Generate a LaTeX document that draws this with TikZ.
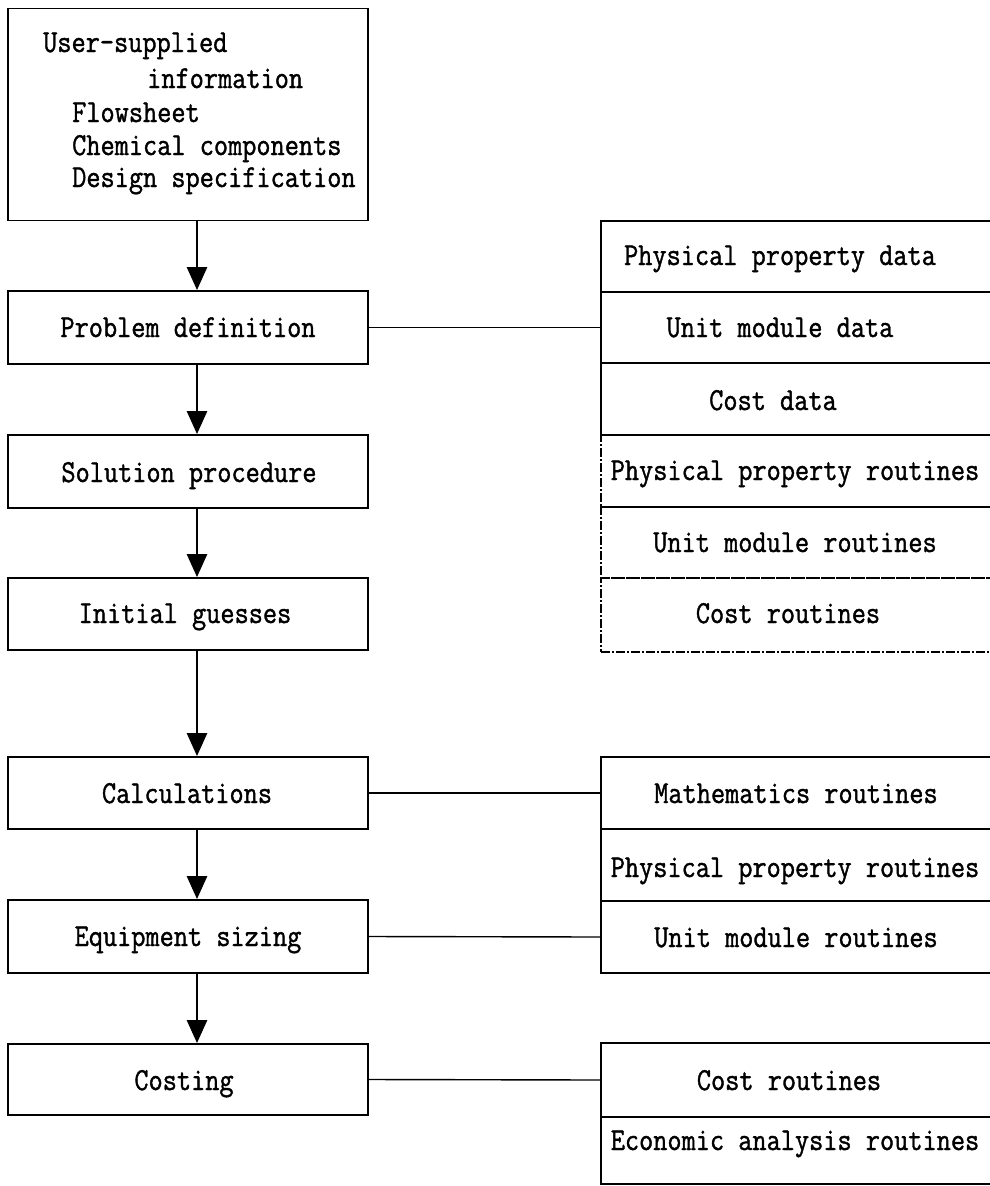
\documentclass[tikz,border=0pt]{standalone}
\usepackage{fontspec}
\setmonofont{Latin Modern Mono}[FakeStretch=0.86,FakeBold=1.2]
\usetikzlibrary{arrows.meta}
\begin{document}
\begin{tikzpicture}[x=1pt,y=-1pt,
  box/.style={draw, line width=1.8pt, rectangle, inner sep=0pt},
  leftbox/.style={box, minimum width=360pt, minimum height=#1},
  cell/.style={box, minimum width=400pt, minimum height=#1},
  dashcell/.style={cell=#1, line width=1.2pt, dash pattern=on 9pt off 2pt on 2pt off 2pt},
  txt/.style={font=\ttfamily\fontsize{32}{34}\selectfont, anchor=base, inner sep=0pt},
  txtw/.style={txt, anchor=base west},
  flow/.style={line width=2.6pt, -{Triangle[width=20pt,length=23pt]}},
  link/.style={line width=1.4pt}]
\useasboundingbox (0,0) rectangle (989,1186);

% main sequence of steps
\node[leftbox=212pt] (ui) at (188,114.5) {};
\node[leftbox=73pt] (pd) at (188,327.5) {};
\node[leftbox=73pt] (sp) at (188,471.5) {};
\node[leftbox=72pt] (ig) at (188,614) {};
\node[leftbox=72pt] (calc) at (188,793) {};
\node[leftbox=73pt] (es) at (188,936.5) {};
\node[leftbox=71pt] (cost) at (188,1079.5) {};

\node[txtw] (ui1) at (43,52) {User-supplied};
\node[txtw] (ui2) at (147,88) {information};
\node[txtw] (ui3) at (72,122) {Flowsheet};
\node[txtw] (ui4) at (72,155) {Chemical components};
\node[txtw] (ui5) at (72,187) {Design specification};
\node[txt] (pdt) at (188,337) {Problem definition};
\node[txt] (spt) at (189,482) {Solution procedure};
\node[txt] (igt) at (185,623) {Initial guesses};
\node[txt] (calct) at (187,803) {Calculations};
\node[txt] (est) at (188,946) {Equipment sizing};
\node[txt] (costt) at (184,1090) {Costing};

% data and routine libraries used in problem definition
\node[dashcell=72pt] (r4) at (801,471) {};
\node[dashcell=71pt] (r5) at (801,542.5) {};
\node[dashcell=74pt] (r6) at (801,615) {};
\node[cell=71pt] (r1) at (801,256.5) {};
\node[cell=71pt] (r2) at (801,327.5) {};
\node[cell=72pt] (r3) at (801,399) {};

\node[txt] (r1t) at (780,265) {Physical property data};
\node[txt] (r2t) at (780,337) {Unit module data};
\node[txt] (r3t) at (773,410) {Cost data};
\node[txt] (r4t) at (795,480) {Physical property routines};
\node[txt] (r5t) at (795,552) {Unit module routines};
\node[txt] (r6t) at (788,623) {Cost routines};

% routines used in calculations and sizing
\node[cell=72pt] (s2a) at (801,793) {};
\node[cell=72pt] (s2b) at (801,865) {};
\node[cell=72pt] (s2c) at (801,937) {};
\node[txt] (s2at) at (796,803) {Mathematics routines};
\node[txt] (s2bt) at (795,877) {Physical property routines};
\node[txt] (s2ct) at (796,947) {Unit module routines};

% routines used in costing
\node[cell=74pt] (s3a) at (801,1080) {};
\node[cell=67pt] (s3b) at (801,1150.5) {};
\node[txt] (s3at) at (789,1090) {Cost routines};
\node[txt] (s3bt) at (795,1150) {Economic analysis routines};

% flow arrows
\draw[flow] ([xshift=9pt]ui.south) -- ([xshift=9pt]pd.north);
\draw[flow] ([xshift=9pt]pd.south) -- ([xshift=9pt]sp.north);
\draw[flow] ([xshift=9pt]sp.south) -- ([xshift=9pt]ig.north);
\draw[flow] ([xshift=9pt]ig.south) -- ([xshift=9pt]calc.north);
\draw[flow] ([xshift=9pt]calc.south) -- ([xshift=9pt]es.north);
\draw[flow] ([xshift=9pt]es.south) -- ([xshift=9pt]cost.north);

% links to libraries
\draw[link] (pd.east) -- (r2.west);
\draw[link] (calc.east) -- (s2a.west);
\draw[link] (es.east) -- (s2c.west);
\draw[link] (cost.east) -- (s3a.west);
\end{tikzpicture}
\end{document}
